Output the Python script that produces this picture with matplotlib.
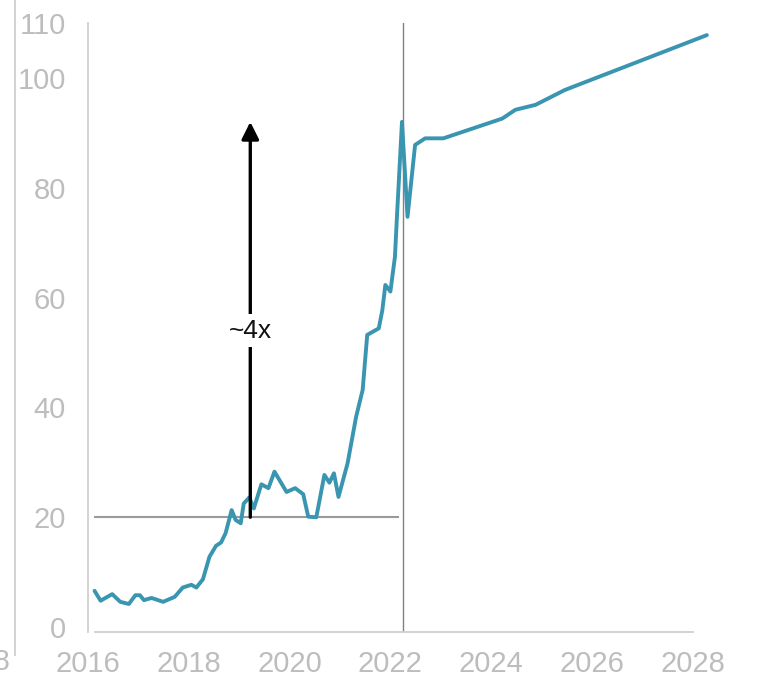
"""Price index with a ~4x jump marker and projection to 2028."""
import matplotlib
matplotlib.use("Agg")
import matplotlib.pyplot as plt
from matplotlib.lines import Line2D

# Series: decimal year / index value
years = [
    2016.13, 2016.25, 2016.48, 2016.64, 2016.81, 2016.94, 2017.03, 2017.11,
    2017.26, 2017.49, 2017.72, 2017.88, 2018.05, 2018.15, 2018.28, 2018.41,
    2018.54, 2018.64, 2018.73, 2018.85, 2018.93, 2019.03, 2019.09, 2019.20,
    2019.29, 2019.44, 2019.58, 2019.70, 2019.94, 2020.11, 2020.27, 2020.37,
    2020.53, 2020.69, 2020.79, 2020.88, 2020.97, 2021.15, 2021.32, 2021.45,
    2021.54, 2021.77, 2021.84, 2021.90, 2022.00, 2022.09, 2022.13, 2022.23,
    2022.34, 2022.49, 2022.69, 2023.05, 2024.22, 2024.48, 2024.88, 2025.46,
    2028.28,
]
values = [
    6.6, 4.8, 6.0, 4.6, 4.2, 5.8, 5.8, 4.9,
    5.3, 4.6, 5.5, 7.2, 7.7, 7.2, 8.7, 12.8,
    14.8, 15.4, 17.1, 21.3, 19.5, 18.9, 22.5, 23.6,
    21.6, 26.0, 25.3, 28.3, 24.6, 25.3, 24.2, 20.1,
    20.0, 27.7, 26.3, 28.0, 23.7, 29.8, 38.3, 43.2,
    53.2, 54.4, 57.7, 62.3, 61.1, 67.4, 74.7, 92.0,
    74.7, 87.8, 89.0, 89.0, 92.6, 94.2, 95.1, 97.8,
    107.8,
]

y_ticks = [0, 20, 40, 60, 80, 100, 110]
x_ticks = [2016, 2018, 2020, 2022, 2024, 2026, 2028]

base_level = 20
peak_level = 92.0
arrow_year = 2019.22
split_year = 2022.26
base_end_year = 2022.16
jump_label = "~4x"

line_color = "#3a95b1"
tick_color = "#bdbdbd"
spine_color = "#cfcfcf"

plt.rcParams["font.family"] = ["Liberation Sans", "DejaVu Sans"]

fig = plt.figure(figsize=(7.58, 6.79), dpi=100)
ax = fig.add_axes([0.1161, 0.0692, 0.8178, 0.8969])

ax.plot(years, values, color=line_color, lw=2.8, solid_joinstyle="round",
        solid_capstyle="round", clip_on=False, zorder=3)

# reference level and split between history / projection
ax.plot([2016.14, base_end_year], [base_level, base_level],
        color="#9a9a9a", lw=1.5, zorder=2)
ax.axvline(split_year, color="#808080", lw=1.0, zorder=2)

# jump arrow
ax.annotate("", xy=(arrow_year, peak_level), xytext=(arrow_year, base_level),
            arrowprops=dict(arrowstyle="-|>", color="black", lw=2.4,
                            mutation_scale=26, shrinkA=0, shrinkB=0),
            zorder=4)
ax.text(arrow_year, 54, jump_label, ha="center", va="center", fontsize=19,
        color="#111111", zorder=5,
        bbox=dict(facecolor="white", edgecolor="none", pad=3))

ax.set_xlim(2016.14, 2028.30)
ax.set_ylim(-0.9, 110)
ax.set_xticks(x_ticks)
ax.set_yticks(y_ticks)
ax.tick_params(axis="both", length=0, labelsize=21, labelcolor=tick_color)
ax.tick_params(axis="x", pad=13)
ax.tick_params(axis="y", pad=16)

for side in ("top", "right"):
    ax.spines[side].set_visible(False)
for side in ("left", "bottom"):
    ax.spines[side].set_color(spine_color)
    ax.spines[side].set_linewidth(1.3)
ax.spines["bottom"].set_bounds(2016.14, 2028)

# edge of the neighbouring panel
fig.add_artist(Line2D([15 / 758, 15 / 758], [1 - 655 / 679, 1.0],
                      transform=fig.transFigure, color=spine_color, lw=1.3))
fig.text(10 / 758, 1 - 662 / 679, "2028", ha="right", va="center",
         fontsize=21, color=tick_color)

fig.savefig("out.png", dpi=100)
